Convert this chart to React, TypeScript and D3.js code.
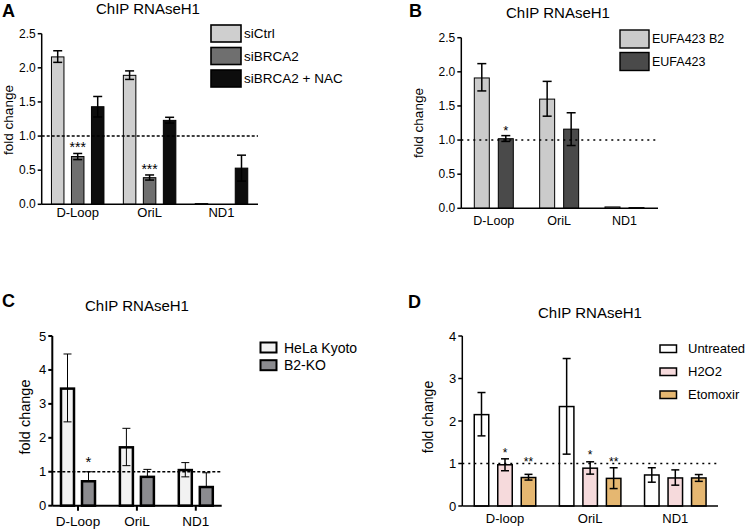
import React from "react";
import * as d3 from "d3";

// ---------- Data ----------
const categoriesA = ["D-Loop", "OriL", "ND1"];
const seriesA = ["siCtrl", "siBRCA2", "siBRCA2 + NAC"];
const valuesA = [
  [2.16, 1.89, 0.01],
  [0.70, 0.39, 0.0],
  [1.43, 1.23, 0.53],
];
const errHiA = [
  [0.09, 0.065, 0],
  [0.045, 0.04, 0],
  [0.15, 0.045, 0.19],
];
const errLoA = [
  [0.08, 0.06, 0],
  [0.045, 0.035, 0],
  [0.15, 0.04, 0.19],
];
const ticksA = [0, 0.5, 1.0, 1.5, 2.0, 2.5];
const starsA = [
  { cat: 0, ser: 1, label: "***", y: 0.884 },
  { cat: 1, ser: 1, label: "***", y: 0.566 },
];

const categoriesB = ["D-Loop", "OriL", "ND1"];
const seriesB = ["EUFA423 B2", "EUFA423"];
const valuesB = [
  [1.91, 1.60, 0.02],
  [1.02, 1.16, 0.01],
];
const errHiB = [
  [0.21, 0.26, 0],
  [0.045, 0.24, 0],
];
const errLoB = [
  [0.19, 0.25, 0],
  [0.04, 0.24, 0],
];
const ticksB = [0, 0.5, 1.0, 1.5, 2.0, 2.5];
const starsB = [{ cat: 0, ser: 1, label: "*", y: 1.177 }];

const categoriesC = ["D-Loop", "OriL", "ND1"];
const seriesC = ["HeLa Kyoto", "B2-KO"];
const valuesC = [
  [3.45, 1.72, 1.05],
  [0.72, 0.85, 0.55],
];
const errHiC = [
  [1.02, 0.56, 0.22],
  [0.28, 0.22, 0.42],
];
const errLoC = [
  [0.98, 0.54, 0.2],
  [0, 0, 0],
];
const ticksC = [0, 1, 2, 3, 4, 5];
const starsC = [{ cat: 0, ser: 1, label: "*", y: 1.405 }];

const categoriesD = ["D-loop", "OriL", "ND1"];
const seriesD = ["Untreated", "H2O2", "Etomoxir"];
const valuesD = [
  [2.15, 2.34, 0.73],
  [0.97, 0.89, 0.66],
  [0.67, 0.65, 0.66],
];
const errHiD = [
  [0.52, 1.13, 0.17],
  [0.14, 0.15, 0.19],
  [0.075, 0.25, 0.08],
];
const errLoD = [
  [0.5, 1.12, 0.17],
  [0.14, 0.14, 0.17],
  [0.06, 0.24, 0.08],
];
const ticksD = [0, 1, 2, 3, 4];
const starsD = [
  { cat: 0, ser: 1, label: "*", y: 1.318 },
  { cat: 0, ser: 2, label: "**", y: 1.099 },
  { cat: 1, ser: 1, label: "*", y: 1.278 },
  { cat: 1, ser: 2, label: "**", y: 1.099 },
];

const FONT = "Liberation Sans, Arial, Helvetica, sans-serif";

type PanelCfg = {
  letter: string;
  letterX: number;
  letterY: number;
  title: string;
  titleX: number;
  titleY: number;
  categories: string[];
  series: string[];
  values: number[][];
  errHi: number[][];
  errLo: number[][];
  ticks: number[];
  tickFormat: (v: number) => string;
  stars: { cat: number; ser: number; label: string; y: number }[];
  colors: string[];
  axisX: number;
  axisRight: number;
  y0: number;
  yTop: number;
  yMax: number;
  catFirst: number;
  catLast: number;
  barW: number;
  barStep: number;
  barStroke: number;
  errStroke: number;
  capW: number;
  axisStroke: number;
  refDash: string;
  xTicks: boolean;
  xLabelDy: number;
  xLabelSize: number;
  tickSize: number;
  yLabelX: number;
  yLabelY: number;
  yLabelSize: number;
  legX: number;
  legY: number;
  legW: number;
  legH: number;
  legStep: number;
  legTextX: number;
  legSize: number;
  legStroke: number;
  starSize: number;
};

function Panel({ c }: { c: PanelCfg }) {
  const y = d3.scaleLinear().domain([0, c.yMax]).range([c.y0, c.yTop]);
  const x = d3.scalePoint<string>().domain(c.categories).range([c.catFirst, c.catLast]);
  const n = c.series.length;
  const inner = d3
    .scalePoint<number>()
    .domain(d3.range(n))
    .range([-(n - 1) / 2 * c.barStep, (n - 1) / 2 * c.barStep]);
  return (
    <g fontFamily={FONT}>
      <text x={c.letterX} y={c.letterY} fontSize={18} fontWeight="bold">
        {c.letter}
      </text>
      <text x={c.titleX} y={c.titleY} fontSize={15} textAnchor="middle">
        {c.title}
      </text>
      {/* bars */}
      {c.series.map((s, si) =>
        c.categories.map((cat, ci) => {
          const v = c.values[si][ci];
          const cx = (x(cat) as number) + (inner(si) as number);
          if (v <= 0) return null;
          const top = y(v);
          return (
            <rect
              key={s + cat}
              x={cx - c.barW / 2}
              y={top}
              width={c.barW}
              height={Math.max(c.y0 - top, 0.8)}
              fill={c.colors[si]}
              stroke="#000"
              strokeWidth={c.barStroke}
            />
          );
        })
      )}
      {/* error bars */}
      {c.series.map((s, si) =>
        c.categories.map((cat, ci) => {
          const v = c.values[si][ci];
          const hi = c.errHi[si][ci];
          const lo = c.errLo[si][ci];
          if (hi <= 0 && lo <= 0) return null;
          const cx = (x(cat) as number) + (inner(si) as number);
          const yHi = y(v + hi);
          const yLo = y(v - lo);
          return (
            <g key={"e" + s + cat} stroke="#000" strokeWidth={c.errStroke}>
              <line x1={cx} x2={cx} y1={yHi} y2={lo > 0 ? yLo : y(v)} />
              <line x1={cx - c.capW / 2} x2={cx + c.capW / 2} y1={yHi} y2={yHi} />
              {lo > 0 && (
                <line x1={cx - c.capW / 2} x2={cx + c.capW / 2} y1={yLo} y2={yLo} />
              )}
            </g>
          );
        })
      )}
      {/* reference line */}
      <line
        x1={c.axisX}
        x2={c.axisRight}
        y1={y(1)}
        y2={y(1)}
        stroke="#000"
        strokeWidth={1.5}
        strokeDasharray={c.refDash}
      />
      {/* y axis */}
      <line x1={c.axisX} x2={c.axisX} y1={c.y0} y2={c.yTop} stroke="#000" strokeWidth={c.axisStroke} />
      {c.ticks.map((t) => (
        <g key={"t" + t}>
          <line x1={c.axisX - 4} x2={c.axisX} y1={y(t)} y2={y(t)} stroke="#000" strokeWidth={c.axisStroke} />
          <text
            x={c.axisX - 6}
            y={y(t)}
            fontSize={c.tickSize}
            textAnchor="end"
            dominantBaseline="central"
          >
            {c.tickFormat(t)}
          </text>
        </g>
      ))}
      {/* x axis */}
      <line x1={c.axisX} x2={c.axisRight} y1={c.y0} y2={c.y0} stroke="#000" strokeWidth={c.axisStroke} />
      {c.categories.map((cat) => (
        <g key={"x" + cat}>
          {c.xTicks && (
            <line
              x1={x(cat) as number}
              x2={x(cat) as number}
              y1={c.y0}
              y2={c.y0 + 5}
              stroke="#000"
              strokeWidth={c.axisStroke}
            />
          )}
          <text x={x(cat) as number} y={c.y0 + c.xLabelDy} fontSize={c.xLabelSize} textAnchor="middle">
            {cat}
          </text>
        </g>
      ))}
      {/* y label */}
      <text
        transform={`translate(${c.yLabelX},${c.yLabelY}) rotate(-90)`}
        fontSize={c.yLabelSize}
        textAnchor="middle"
        dominantBaseline="central"
      >
        fold change
      </text>
      {/* stars */}
      {c.stars.map((st, i) => {
        const cx = (x(c.categories[st.cat]) as number) + (inner(st.ser) as number);
        return (
          <text
            key={"s" + i}
            x={cx}
            y={y(st.y) + 0.57 * c.starSize}
            fontSize={c.starSize}
            textAnchor="middle"
          >
            {st.label}
          </text>
        );
      })}
      {/* legend */}
      {c.series.map((s, si) => (
        <g key={"l" + s}>
          <rect
            x={c.legX}
            y={c.legY + si * c.legStep}
            width={c.legW}
            height={c.legH}
            fill={c.colors[si]}
            stroke="#000"
            strokeWidth={c.legStroke}
          />
          <text
            x={c.legTextX}
            y={c.legY + si * c.legStep + c.legH / 2}
            fontSize={c.legSize}
            dominantBaseline="central"
          >
            {s}
          </text>
        </g>
      ))}
    </g>
  );
}

const f1 = d3.format(".1f");
const f0 = d3.format("d");

const panelA: PanelCfg = {
  letter: "A", letterX: 2, letterY: 17, title: "ChIP RNAseH1", titleX: 148, titleY: 14,
  categories: categoriesA, series: seriesA, values: valuesA, errHi: errHiA, errLo: errLoA,
  ticks: ticksA, tickFormat: f1, stars: starsA, colors: ["#cfcfcf", "#6f6f6f", "#0d0d0d"],
  axisX: 41.7, axisRight: 258, y0: 204.3, yTop: 33.7, yMax: 2.5,
  catFirst: 77.7, catLast: 221.5, barW: 12.5, barStep: 20, barStroke: 1, errStroke: 1.5, capW: 9,
  axisStroke: 1.5, refDash: "3,2", xTicks: false, xLabelDy: 13, xLabelSize: 13, tickSize: 12,
  yLabelX: 8.5, yLabelY: 120, yLabelSize: 13.5,
  legX: 211, legY: 25, legW: 30, legH: 17, legStep: 22.5, legTextX: 244, legSize: 13.5, legStroke: 1.6,
  starSize: 14,
};

const panelB: PanelCfg = {
  letter: "B", letterX: 409, letterY: 17, title: "ChIP RNAseH1", titleX: 558, titleY: 18,
  categories: categoriesB, series: seriesB, values: valuesB, errHi: errHiB, errLo: errLoB,
  ticks: ticksB, tickFormat: f1, stars: starsB, colors: ["#cbcbcb", "#4a4a4a"],
  axisX: 461.3, axisRight: 658, y0: 208.3, yTop: 37.7, yMax: 2.5,
  catFirst: 493.8, catLast: 624.5, barW: 15, barStep: 24, barStroke: 1, errStroke: 1.5, capW: 9,
  axisStroke: 1.5, refDash: "2,4", xTicks: false, xLabelDy: 17, xLabelSize: 12.5, tickSize: 12,
  yLabelX: 418, yLabelY: 123, yLabelSize: 13.5,
  legX: 620, legY: 30, legW: 29, legH: 18, legStep: 22.5, legTextX: 652, legSize: 12.5, legStroke: 1.4,
  starSize: 13,
};

const panelC: PanelCfg = {
  letter: "C", letterX: 2, letterY: 306.5, title: "ChIP RNAseH1", titleX: 137, titleY: 311,
  categories: categoriesC, series: seriesC, values: valuesC, errHi: errHiC, errLo: errLoC,
  ticks: ticksC, tickFormat: f0, stars: starsC, colors: ["#f2f2f2", "#8b8b8f"],
  axisX: 52.3, axisRight: 221.7, y0: 505.7, yTop: 336, yMax: 5,
  catFirst: 78, catLast: 195.8, barW: 13, barStep: 21, barStroke: 2.5, errStroke: 1, capW: 8,
  axisStroke: 2, refDash: "3,2", xTicks: true, xLabelDy: 20, xLabelSize: 13.5, tickSize: 13,
  yLabelX: 25, yLabelY: 417, yLabelSize: 14.5,
  legX: 260.5, legY: 342.5, legW: 16, legH: 10, legStep: 17.7, legTextX: 284, legSize: 14, legStroke: 2,
  starSize: 15,
};

const panelD: PanelCfg = {
  letter: "D", letterX: 408, letterY: 308, title: "ChIP RNAseH1", titleX: 590, titleY: 318,
  categories: categoriesD, series: seriesD, values: valuesD, errHi: errHiD, errLo: errLoD,
  ticks: ticksD, tickFormat: f0, stars: starsD, colors: ["#ffffff", "#f6dadc", "#e5b771"],
  axisX: 462.3, axisRight: 718, y0: 506, yTop: 336, yMax: 4,
  catFirst: 505, catLast: 675.3, barW: 14.5, barStep: 23.5, barStroke: 1.5, errStroke: 1.5, capW: 8,
  axisStroke: 1.5, refDash: "2,4", xTicks: false, xLabelDy: 17, xLabelSize: 13, tickSize: 13,
  yLabelX: 428, yLabelY: 417, yLabelSize: 14,
  legX: 660, legY: 345, legW: 16.5, legH: 7.5, legStep: 23, legTextX: 688, legSize: 13, legStroke: 1.5,
  starSize: 12,
};

export default function App() {
  return (
    <svg
      width={747}
      height={530}
      viewBox="0 0 747 530"
      style={{ position: "absolute", left: 0, top: 0, background: "#fff" }}
    >
      <rect width={747} height={530} fill="#fff" />
      <Panel c={panelA} />
      <Panel c={panelB} />
      <Panel c={panelC} />
      <Panel c={panelD} />
    </svg>
  );
}
